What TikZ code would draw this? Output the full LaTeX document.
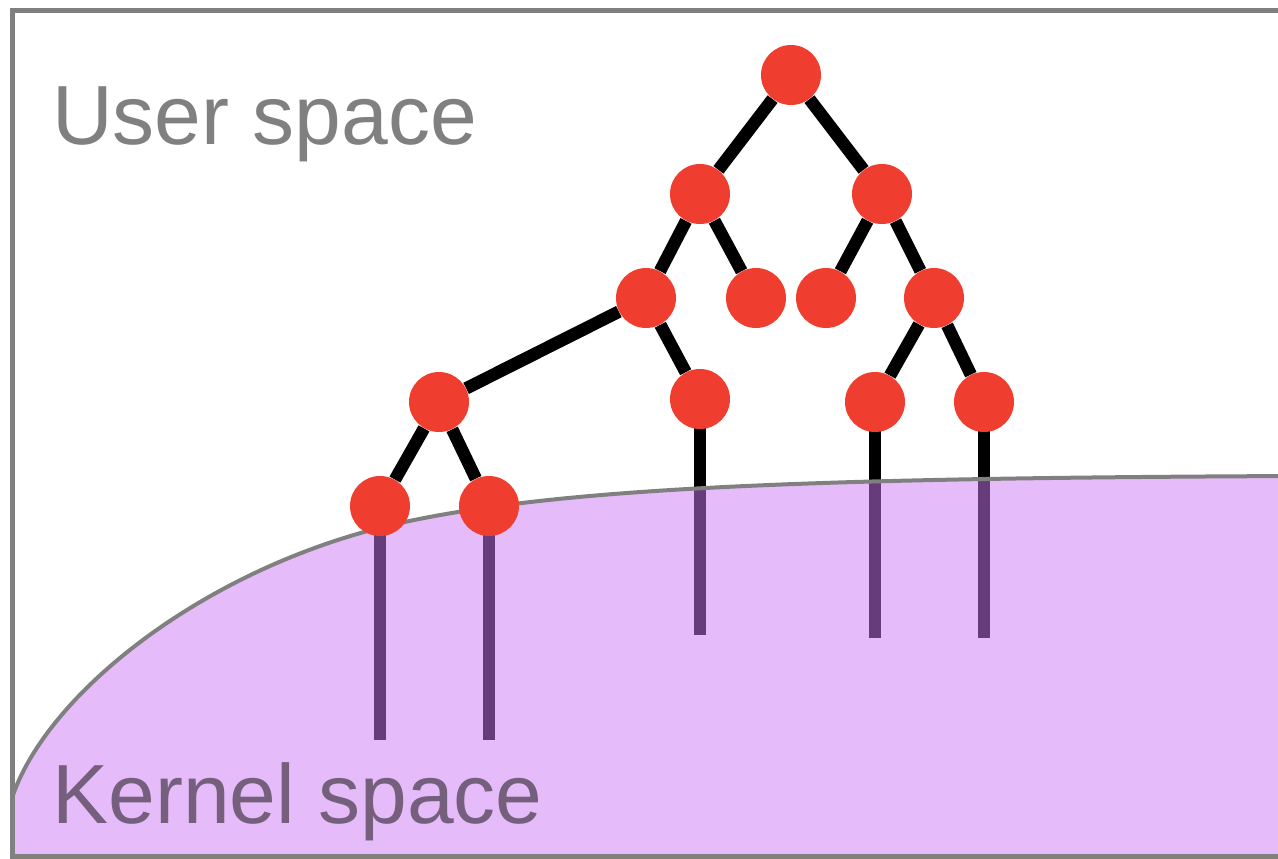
\documentclass[tikz,border=0pt]{standalone}
\usepackage{fontspec}
\setmainfont{Liberation Sans}
\usepackage{xcolor}
\definecolor{procred}{RGB}{239,62,47}
\definecolor{kernfill}{RGB}{206,120,244}
\definecolor{framegray}{RGB}{128,128,128}
\definecolor{kerntext}{RGB}{116,96,124}
\usetikzlibrary{positioning}
\pgfdeclarelayer{bg}
\pgfsetlayers{bg,main}

\begin{document}
\begin{tikzpicture}[
    proc/.style={circle,fill=procred,minimum size=1.2cm,inner sep=0pt},
    link/.style={line width=0.25cm,black},
    region/.style={font=\fontsize{47.8}{57}\selectfont,anchor=base west,inner sep=0pt}]
  \useasboundingbox (0,0) rectangle (25.56,17.16);

  %% Process tree
  \node[proc] (root) at (15.82,15.66) {};
  \node[proc] (a)    at (14.00,13.28) {};
  \node[proc] (b)    at (17.64,13.28) {};
  \node[proc] (aa)   at (12.92,11.20) {};
  \node[proc] (ab)   at (15.12,11.20) {};
  \node[proc] (ba)   at (16.52,11.20) {};
  \node[proc] (bb)   at (18.68,11.20) {};
  \node[proc] (aaa)  at (8.78,9.12) {};
  \node[proc] (aab)  at (14.00,9.18) {};
  \node[proc] (bba)  at (17.50,9.12) {};
  \node[proc] (bbb)  at (19.68,9.12) {};
  \node[proc] (aaaa) at (7.60,7.04) {};
  \node[proc] (aaab) at (9.78,7.04) {};

  %% Ends of the legs into the kernel
  \coordinate (sysaaaa) at (7.60,2.36);
  \coordinate (sysaaab) at (9.78,2.36);
  \coordinate (sysaab)  at (14.00,4.46);
  \coordinate (sysbba)  at (17.50,4.40);
  \coordinate (sysbbb)  at (19.68,4.40);

  \begin{pgfonlayer}{bg}
    \draw[link] (root) -- (a);
    \draw[link] (root) -- (b);
    \draw[link] (a) -- (aa);
    \draw[link] (a) -- (ab);
    \draw[link] (b) -- (ba);
    \draw[link] (b) -- (bb);
    \draw[link] (aa) -- (aaa);
    \draw[link] (aa) -- (aab);
    \draw[link] (bb) -- (bba);
    \draw[link] (bb) -- (bbb);
    \draw[link] (aaa) -- (aaaa);
    \draw[link] (aaa) -- (aaab);
    \foreach \n in {aaaa,aaab,aab,bba,bbb}
      \draw[link] (\n.center) -- (sys\n);

    %% Kernel region
    \draw[framegray,line width=0.08cm,fill=kernfill,fill opacity=0.5]
      (0.26,0.04) -- (0.26,1.26)
      .. controls (1.00,3.36) and (4.20,5.86) .. (8.00,6.70)
      .. controls (11.20,7.40) and (16.00,7.60) .. (26.00,7.64)
      -- (26.00,0.04) -- cycle;
  \end{pgfonlayer}

  %% Frame
  \draw[framegray,line width=0.1cm] (26.00,16.94) -- (0.26,16.94)
        -- (0.26,0.04) -- (26.00,0.04);

  %% Labels
  \node[region,text=framegray] (user) at (1.04,14.26) {User space};
  \node[region,text=kerntext] (kernel) at (1.04,0.70) {Kernel space};
\end{tikzpicture}
\end{document}
